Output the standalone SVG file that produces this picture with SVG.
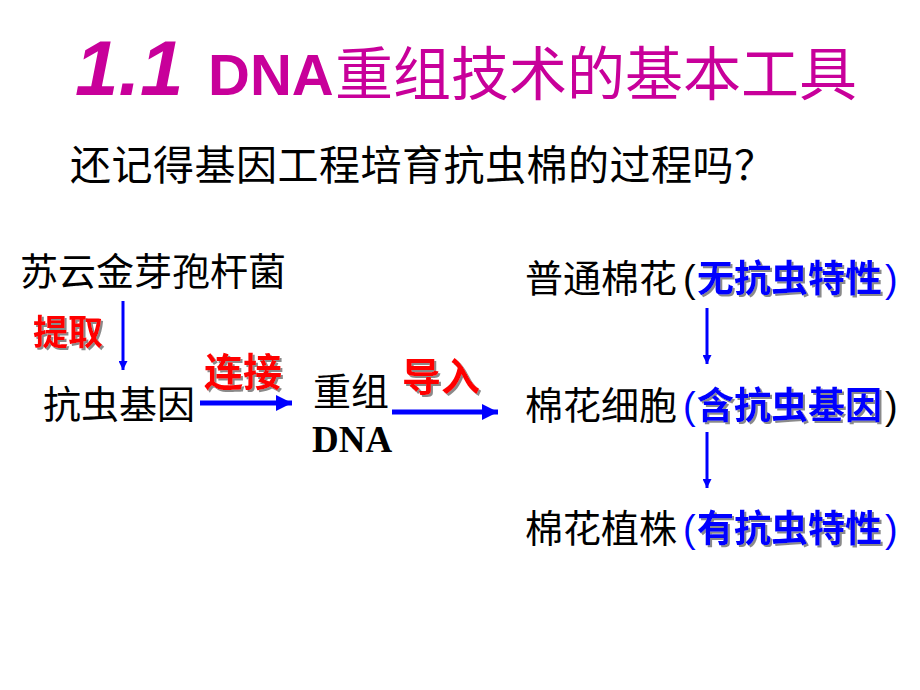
<svg xmlns="http://www.w3.org/2000/svg" width="920" height="690" viewBox="0 0 920 690">
<defs>
<style>
.t{font-family:"Noto Sans CJK SC","Liberation Sans",sans-serif;font-size:38px;fill:#000}
.red{font-family:"Noto Sans CJK SC",sans-serif;font-size:36px;font-weight:bold;fill:#FF0000;filter:url(#sh)}
.blue{font-family:"Noto Sans CJK SC",sans-serif;font-size:37px;font-weight:bold;fill:#0000FF;filter:url(#sh)}
.par{font-family:"Liberation Sans",sans-serif;font-size:38px}
.title{fill:#C8009A;font-weight:bold}
.ln{stroke:#0000FF;fill:none}
</style>
<filter id="sh" x="-10%" y="-10%" width="130%" height="130%">
<feDropShadow dx="2" dy="2" stdDeviation="0.6" flood-color="#8a8a8a" flood-opacity="1"/>
</filter>
<marker id="ah" viewBox="0 0 10 10" refX="10" refY="5" markerWidth="3.6" markerHeight="3.2" markerUnits="strokeWidth" orient="auto">
<path d="M0,0 L10,5 L0,10 z" fill="#0000FF"/>
</marker>
<marker id="ahs" viewBox="0 0 10 10" refX="10" refY="5" markerWidth="3.3" markerHeight="3" markerUnits="strokeWidth" orient="auto">
<path d="M0,0 L10,5 L0,10 z" fill="#0000FF"/>
</marker>
</defs>
<rect width="920" height="690" fill="#FFFFFF"/>

<g id="title">
<text x="75" y="95" class="title" style="font-family:'Liberation Sans',sans-serif;font-size:78px;font-style:italic">1.1</text>
<text x="208" y="95" class="title" style="font-family:'Liberation Sans',sans-serif;font-size:58px">DNA</text>
<text x="335" y="95" class="title" style="font-family:'Noto Sans CJK SC',sans-serif;font-size:58px;font-weight:normal">重组技术的基本工具</text>
</g>

<g id="subtitle">
<text x="70" y="180" class="t" style="font-size:41px" textLength="705" lengthAdjust="spacing">还记得基因工程培育抗虫棉的过程吗？</text>
</g>

<g id="node-bt">
<text x="20" y="285" class="t">苏云金芽孢杆菌</text>
</g>
<g id="node-gene">
<text x="43" y="418" class="t">抗虫基因</text>
</g>
<g id="node-recdna">
<text x="313" y="405" class="t">重组</text>
<text x="312" y="452" style="font-family:'Liberation Serif',serif;font-size:37px;font-weight:bold">DNA</text>
</g>
<g id="node-cotton">
<text y="292"><tspan x="525" class="t">普通棉花</tspan><tspan x="683" class="par" fill="#000">(</tspan><tspan x="697" class="blue">无抗虫特性</tspan><tspan x="885" class="par" fill="#0000FF">)</tspan></text>
</g>
<g id="node-cell">
<text y="419"><tspan x="525" class="t">棉花细胞</tspan><tspan x="683" class="par" fill="#0000FF">(</tspan><tspan x="697" class="blue">含抗虫基因</tspan><tspan x="885" class="par" fill="#000">)</tspan></text>
</g>
<g id="node-plant">
<text y="542"><tspan x="525" class="t">棉花植株</tspan><tspan x="683" class="par" fill="#0000FF">(</tspan><tspan x="697" class="blue">有抗虫特性</tspan><tspan x="885" class="par" fill="#0000FF">)</tspan></text>
</g>

<g id="connectors">
<line x1="123" y1="301" x2="123" y2="370" class="ln" stroke-width="3" marker-end="url(#ahs)"/>
<line x1="200" y1="403" x2="292" y2="403" class="ln" stroke-width="5" marker-end="url(#ah)"/>
<line x1="392" y1="412" x2="498" y2="412" class="ln" stroke-width="5" marker-end="url(#ah)"/>
<line x1="707" y1="308" x2="707" y2="364" class="ln" stroke-width="3" marker-end="url(#ahs)"/>
<line x1="707" y1="432" x2="707" y2="488" class="ln" stroke-width="3" marker-end="url(#ahs)"/>
<text x="33" y="345" class="red" style="font-size:35px">提取</text>
<text x="204" y="386" class="red" style="font-size:39px">连接</text>
<text x="402" y="391" class="red" style="font-size:39px">导入</text>
</g>
</svg>
